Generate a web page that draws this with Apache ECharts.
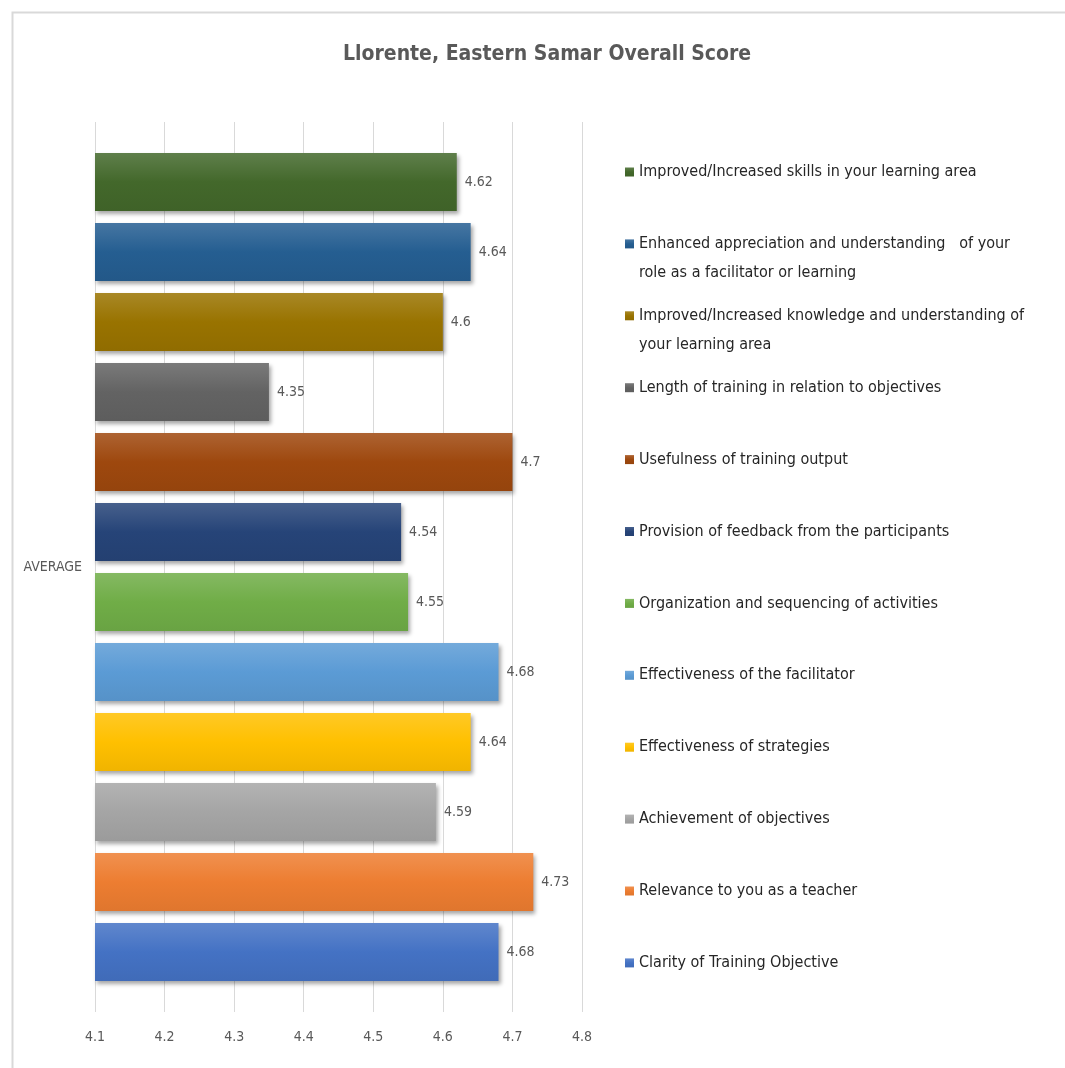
<!DOCTYPE html>
<html>
<head>
<meta charset="utf-8">
<script src="https://cdn.jsdelivr.net/npm/echarts@6/dist/echarts.min.js"></script>
<style>html,body{margin:0;padding:0;background:#fff;}#c{width:1065px;height:1068px;}</style>
</head>
<body>
<div id="c"></div>
<script>
// ---- data (top-to-bottom order as shown) ----
const chartTitle = 'Llorente, Eastern Samar Overall Score';
const categories = ['AVERAGE'];
const seriesNames = [
  'Improved/Increased skills in your learning area',
  'Enhanced appreciation and understanding   of your\nrole as a facilitator or learning',
  'Improved/Increased knowledge and understanding of\nyour learning area',
  'Length of training in relation to objectives',
  'Usefulness of training output',
  'Provision of feedback from the participants',
  'Organization and sequencing of activities',
  'Effectiveness of the facilitator',
  'Effectiveness of strategies',
  'Achievement of objectives',
  'Relevance to you as a teacher',
  'Clarity of Training Objective'
];
const seriesValues = [4.62, 4.64, 4.6, 4.35, 4.7, 4.54, 4.55, 4.68, 4.64, 4.59, 4.73, 4.68];
const xTicks = [4.1, 4.2, 4.3, 4.4, 4.5, 4.6, 4.7, 4.8];

// ---- styles ----
const baseColors = ['#43682B','#255E91','#997300','#636363','#9E480E','#264478',
                    '#70AD47','#5B9BD5','#FFC000','#A5A5A5','#ED7D31','#4472C4'];
const FONT = "'Liberation Sans Narrow','Arial Narrow','DejaVu Sans Condensed',sans-serif";
function mix(hex, t, amt){
  const n = parseInt(hex.slice(1),16);
  let r=(n>>16)&255,g=(n>>8)&255,b=n&255;
  const tv = t==='w'?255:0;
  r=Math.round(r+(tv-r)*amt); g=Math.round(g+(tv-g)*amt); b=Math.round(b+(tv-b)*amt);
  return 'rgb('+r+','+g+','+b+')';
}
const chart = echarts.init(document.getElementById('c'), null, {renderer:'canvas'});

const legendCenterTop = 172, legendPitch = 71.9, legendLH = 22, legendFS = 16;
const legends = seriesNames.map((nm,i)=>({
  data:[nm],
  left: 625,
  top: legendCenterTop + legendPitch*i - legendLH/2,
  padding:0,
  orient:'vertical',
  icon:'rect', itemWidth:9, itemHeight:9,
  selectedMode:false,
  formatter: n => n.split('\n')[0],
  textStyle:{fontFamily:FONT, fontSize:legendFS, color:'#262626', lineHeight:legendLH}
}));

const graphics = [
  {type:'rect', left:10, top:10, shape:{width:1200, height:1200}, style:{fill:'none', stroke:'#d9d9d9', lineWidth:2}, silent:true, z:-1}
];
seriesNames.forEach((nm,i)=>{
  const parts = nm.split('\n');
  if(parts.length>1){
    graphics.push({type:'text', left:639, top: legendCenterTop + legendPitch*i - legendLH/2 + 29,
      style:{text:parts.slice(1).join('\n'), font:legendFS+'px '+FONT, fill:'#262626', lineHeight:legendLH, textVerticalAlign:'top'}});
  }
});

const series = seriesNames.map((nm,i)=>({
  name:nm, type:'bar',
  data: [seriesValues[i]],
  barWidth:58, barGap:'20.7%',
  color: baseColors[i],
  itemStyle:{
    color:{type:'linear',x:0,y:0,x2:0,y2:1,colorStops:[
      {offset:0,color:mix(baseColors[i],'w',0.15)},
      {offset:0.5,color:baseColors[i]},
      {offset:1,color:mix(baseColors[i],'b',0.06)}]},
    shadowColor:'rgba(0,0,0,0.35)', shadowBlur:4, shadowOffsetX:2, shadowOffsetY:3
  },
  label:{show:true, position:'right', distance:8, fontFamily:FONT, fontSize:14, color:'#595959',
         formatter: p => String(p.value)}
}));

chart.setOption({
  backgroundColor:'#fff',
  animation:false,
  title:{text:chartTitle, left:338, top:39,
    textStyle:{fontFamily:FONT, fontSize:21, fontWeight:'bold', color:'#595959'}},
  legend: legends,
  graphic: graphics,
  grid:{left:95, right:483, top:122, bottom:56, containLabel:false},
  xAxis:{type:'value', min:xTicks[0], max:xTicks[xTicks.length-1], interval:0.1,
    axisLine:{show:false}, axisTick:{show:false},
    splitLine:{lineStyle:{color:'#d9d9d9', width:1}},
    axisLabel:{margin:18, fontFamily:FONT, fontSize:14, color:'#595959',
      formatter: v => { const r = Math.round(v*10)/10; return xTicks.indexOf(r)>=0 ? String(r) : ''; }}},
  yAxis:{type:'category', data:categories,
    axisLine:{show:false}, axisTick:{show:false}, splitLine:{show:false},
    axisLabel:{margin:13, fontFamily:FONT, fontSize:14, color:'#595959'}},
  series: series
});
</script>
</body>
</html>
